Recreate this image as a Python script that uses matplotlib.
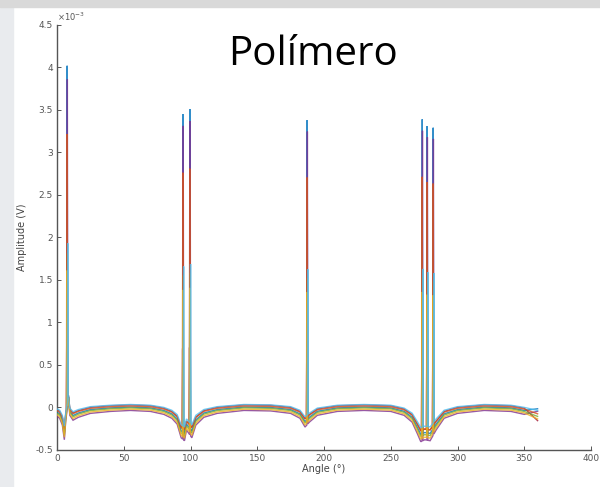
import numpy as np
import matplotlib
matplotlib.use("Agg")
import matplotlib.pyplot as plt
from matplotlib.patches import Rectangle

# ---- data (amplitude in units of 1e-3 V) ----
profile_angle = [0, 2, 4, 5.5, 6.6, 8.6, 9.6, 12, 16, 25, 40, 55, 70, 80, 86, 90, 93,
                 95.5, 97, 101, 104, 110, 120, 140, 160, 175, 182, 185.8, 189, 195,
                 210, 230, 250, 260, 266, 270, 272.5, 275.5, 279.5, 284, 290, 300,
                 320, 340, 350]
profile_value = [-0.06, -0.08, -0.15, -0.30, -0.10, 0.12, -0.05, -0.10, -0.07, -0.03,
                 -0.01, 0.0, -0.01, -0.04, -0.08, -0.14, -0.28, -0.31, -0.20, -0.28,
                 -0.15, -0.07, -0.03, 0.0, -0.005, -0.03, -0.08, -0.17, -0.12, -0.05,
                 -0.01, 0.0, -0.01, -0.05, -0.12, -0.24, -0.32, -0.30, -0.31, -0.20,
                 -0.08, -0.03, 0.0, -0.01, -0.04]
end_angle = 360

peak_angles = [7.6, 94.4, 99.6, 187.4, 273.6, 277.3, 281.8]
peak_heights = [4.02, 3.45, 3.51, 3.38, 3.39, 3.31, 3.29]

series_colors = ["#A2142F", "#0072BD", "#7E2F8E", "#77AC30", "#D95319", "#EDB120", "#4DBEEE"]
series_offset = [0.025, 0.0, -0.04, -0.01, 0.012, -0.025, 0.03]
series_gain = [0.95, 1.0, 1.15, 1.05, 0.9, 1.1, 0.85]
series_end = [-0.16, -0.02, -0.05, -0.11, -0.08, -0.14, -0.04]
series_peak_frac = [0.2, 1.0, 0.96, 0.45, 0.80, 0.40, 0.48]
series_peak_shift = [-0.3, 0.0, 0.15, 0.1, -0.15, -0.1, 0.45]

x_ticks = [0, 50, 100, 150, 200, 250, 300, 350, 400]
y_ticks = [-0.5, 0, 0.5, 1, 1.5, 2, 2.5, 3, 3.5, 4, 4.5]
y_tick_labels = ["-0.5", "0", "0.5", "1", "1.5", "2", "2.5", "3", "3.5", "4", "4.5"]

# ---- figure ----
fig = plt.figure(figsize=(6.0, 4.87), dpi=100)
fig.patches.append(Rectangle((0, 0), 13 / 600, 1, transform=fig.transFigure,
                             color="#e9ebee", zorder=0))
fig.patches.append(Rectangle((0, 1 - 7 / 487), 1, 7 / 487, transform=fig.transFigure,
                             color="#d9d9d9", zorder=0))

ax = fig.add_axes([57 / 600, 37.5 / 487, 534 / 600, 424.5 / 487])

base_x = np.array(profile_angle + [end_angle], dtype=float)
for k, col in enumerate(series_colors):
    base_y = np.array(profile_value + [series_end[k]], dtype=float)
    base_y[:-1] = base_y[:-1] * series_gain[k] + series_offset[k]
    xs = list(base_x)
    ys = list(base_y)
    for pa, ph in zip(peak_angles, peak_heights):
        a = pa + series_peak_shift[k]
        for dx, val in ((-0.35, None), (0.0, ph * series_peak_frac[k]), (0.35, None)):
            xx = a + dx
            if val is None:
                val = float(np.interp(xx, base_x, base_y))
            xs.append(xx)
            ys.append(val)
    order = np.argsort(xs)
    ax.plot(np.array(xs)[order], np.array(ys)[order], color=col, lw=1.0, alpha=0.8,
            solid_joinstyle="miter", zorder=2 + k)

ax.set_xlim(0, 400)
ax.set_ylim(-0.5, 4.5)
ax.set_xticks(x_ticks)
ax.set_yticks(y_ticks)
ax.set_yticklabels(y_tick_labels)
for s in ("top", "right"):
    ax.spines[s].set_visible(False)
for s in ("left", "bottom"):
    ax.spines[s].set_color("#555555")
    ax.spines[s].set_linewidth(1.0)
ax.tick_params(direction="in", length=3, width=0.7, colors="#555555",
               labelsize=6.5, labelcolor="#555555", pad=3)

ax.set_xlabel("Angle (°)", fontsize=7, color="#444444", labelpad=1)
ax.set_ylabel("Amplitude (V)", fontsize=7, color="#444444", labelpad=6)
ax.text(0.0, 1.005, r"$\times10^{-3}$", transform=ax.transAxes, fontsize=6,
        color="#555555", ha="left", va="bottom")

fig.text(313 / 600, 1 - 55 / 487, "Polímero", fontsize=29, family="Open Sans",
         ha="center", va="center", color="black")

fig.savefig("out.png", dpi=100)
